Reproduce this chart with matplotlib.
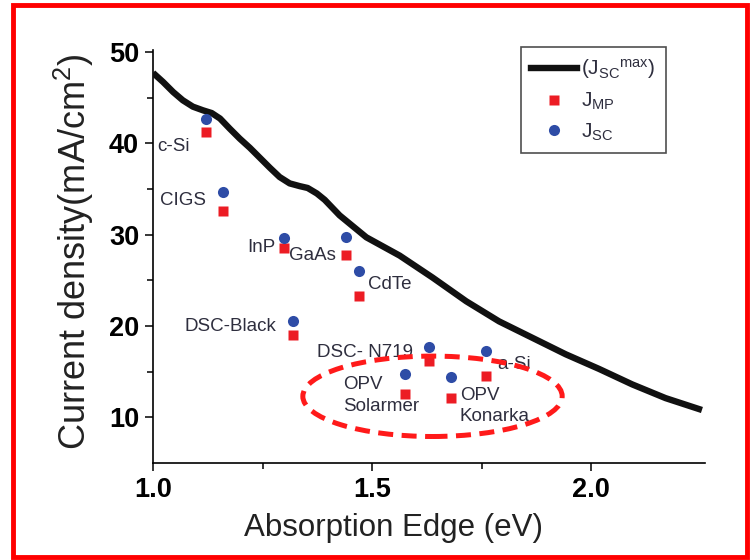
import matplotlib
matplotlib.use('Agg')
import matplotlib.pyplot as plt
from matplotlib.lines import Line2D
from matplotlib.patches import Ellipse, Rectangle

plt.rcParams['font.family'] = ['Liberation Sans', 'DejaVu Sans']
plt.rcParams['mathtext.fontset'] = 'custom'
plt.rcParams['mathtext.rm'] = 'Liberation Sans'
plt.rcParams['mathtext.it'] = 'Liberation Sans'

# Jsc max curve (absorption edge eV, mA/cm2)
edge_eV = [1.0, 1.023, 1.046, 1.068, 1.091, 1.114, 1.134, 1.153, 1.175, 1.198,
           1.221, 1.244, 1.267, 1.289, 1.312, 1.335, 1.353, 1.374, 1.392,
           1.426, 1.487, 1.563, 1.638, 1.715, 1.790, 1.866, 1.942, 2.018,
           2.094, 2.170, 2.253]
jsc_max = [47.7, 46.7, 45.6, 44.7, 44.0, 43.6, 43.3, 42.7, 41.6, 40.5,
           39.5, 38.4, 37.3, 36.3, 35.6, 35.3, 35.1, 34.5, 33.8,
           32.1, 29.7, 27.7, 25.3, 22.7, 20.5, 18.7, 16.9, 15.3,
           13.6, 12.1, 10.8]

cells = ['c-Si', 'CIGS', 'InP', 'GaAs', 'CdTe', 'DSC-Black', 'DSC-N719',
         'a-Si', 'OPV Solarmer', 'OPV Konarka']
cell_edge = [1.12, 1.16, 1.30, 1.44, 1.47, 1.32, 1.63, 1.76, 1.575, 1.68]
jsc = [42.6, 34.7, 29.6, 29.7, 26.0, 20.5, 17.7, 17.25, 14.7, 14.4]
jmp = [41.2, 32.6, 28.5, 27.8, 23.3, 19.0, 16.2, 14.5, 12.6, 12.1]

# label text and where it sits
label_text = ['c-Si', 'CIGS', 'InP', 'GaAs', 'CdTe', 'DSC-Black', 'DSC- N719',
              'a-Si', 'OPV\nSolarmer', 'OPV\nKonarka']
label_x = [1.009, 1.016, 1.214, 1.31, 1.49, 1.073, 1.374, 1.786, 1.433, 1.70]
label_y = [39.6, 33.7, 28.6, 27.7, 24.5, 19.9, 17.1, 15.8, 12.4, 11.25]

RED = '#ec1c24'
BLUE = '#2e4ca6'
TXT = '#2e2e3e'

fig = plt.figure(figsize=(7.53, 5.6), dpi=100)
ax = fig.add_axes([153/753, 1 - 463/560, (705 - 153)/753, (463 - 50)/560])

ax.plot(edge_eV, jsc_max, color='#111111', lw=4.6, solid_joinstyle='round',
        solid_capstyle='butt', zorder=3)
ax.plot(cell_edge, jmp, 's', color=RED, ms=7, mec='none', zorder=4)
ax.plot(cell_edge, jsc, 'o', color=BLUE, ms=8, mec='none', zorder=4)

for t, x, y in zip(label_text, label_x, label_y):
    ax.text(x, y, t, fontsize=13.5, color=TXT, ha='left', va='center',
            linespacing=1.35, zorder=2)

ell = Ellipse((1.638, 12.3), 0.592, 8.8, fill=False, ec='#ff1a1a', lw=3.6,
              ls=(0, (3.0, 1.7)), zorder=5)
ax.add_patch(ell)

ax.set_xlim(1.0, 2.26)
ax.set_ylim(5, 50.2)
ax.set_xticks([1.0, 1.5, 2.0])
ax.set_xticks([1.25, 1.75], minor=True)
ax.set_yticks([10, 20, 30, 40, 50])
ax.set_yticks([15, 25, 35, 45], minor=True)
ax.set_xticklabels(['1.0', '1.5', '2.0'])
for lab in ax.get_xticklabels() + ax.get_yticklabels():
    lab.set_fontweight('bold')
    lab.set_fontsize(19.5)
ax.tick_params(which='major', length=6, width=1.1, direction='out', pad=4)
ax.tick_params(which='minor', length=4, width=1.1, direction='out')
ax.spines['top'].set_visible(False)
ax.spines['right'].set_visible(False)
for s in ('left', 'bottom'):
    ax.spines[s].set_linewidth(1.2)

ax.set_xlabel('Absorption Edge (eV)', fontsize=22.5, color='#222222')
ax.xaxis.set_label_coords((393 - 153)/552, -(513 - 463)/413)
ax.set_ylabel('Current density(mA/cm$^2$)', fontsize=26, color='#222222')
ax.yaxis.set_label_coords(-(153 - 96)/552, (463 - 252)/413)

handles = [
    Line2D([], [], color='#111111', lw=4.6),
    Line2D([], [], ls='none', marker='s', color=RED, ms=7, mec='none'),
    Line2D([], [], ls='none', marker='o', color=BLUE, ms=8, mec='none'),
]
names = [r'(J$_{\mathrm{SC}}$$^{\mathrm{max}}$)', r'J$_{\mathrm{MP}}$',
         r'J$_{\mathrm{SC}}$']
leg = ax.legend(handles, names, loc='upper left', bbox_to_anchor=(521/753, 1 - 47/560),
                bbox_transform=fig.transFigure, borderaxespad=0, fontsize=15,
                frameon=True, fancybox=False, edgecolor='#222222', handlelength=2.2,
                handletextpad=0.2, borderpad=0.5, labelspacing=0.45)
leg.get_frame().set_linewidth(1.2)
for t in leg.get_texts():
    t.set_color(TXT)

# red frame around the whole picture
fig.patches.append(Rectangle((13/753, 3/560), (747 - 13)/753, (555 - 3)/560,
                             transform=fig.transFigure, fill=False, ec='#ff0000',
                             lw=3.5, zorder=10))

fig.savefig('out.png', dpi=100)
